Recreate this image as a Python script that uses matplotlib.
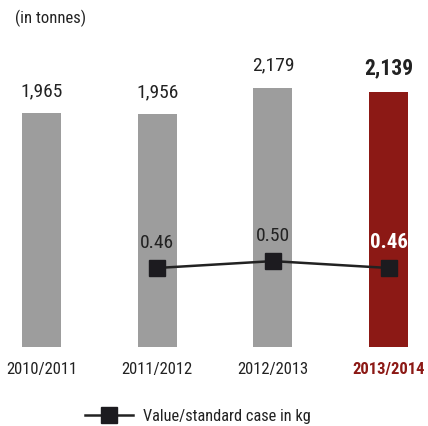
import matplotlib.pyplot as plt
from matplotlib.lines import Line2D

plt.rcParams['font.family'] = ['Roboto Condensed', 'DejaVu Sans']

years = ['2010/2011', '2011/2012', '2012/2013', '2013/2014']
tonnes = [1965, 1956, 2179, 2139]
kg_years = [1, 2, 3]
kg_per_case = [0.46, 0.50, 0.46]

grey = '#9d9d9d'
red = '#8c1915'
dark = '#222222'

fig = plt.figure(figsize=(4.28, 4.26), dpi=100)
ax = fig.add_axes([0, 1 - 347 / 426, 1, 347 / 426])
x = list(range(len(years)))
colors = [grey] * 3 + [red]
ax.bar(x, tonnes, width=0.337, color=colors)
ax.set_xlim(-0.359, 3.341)
ax.set_ylim(0, 2915)

for i, v in enumerate(tonnes):
    last = i == len(tonnes) - 1
    ax.annotate(f'{v:,}', (i, v), xytext=(0, 16 if not last else 17),
                textcoords='offset points', ha='center', va='center',
                fontsize=15.5 if last else 14,
                fontweight='bold' if last else 'normal', color=dark)

ax2 = ax.twinx()
ax2.set_ylim(0, 2.02)
ax2.plot(kg_years, kg_per_case, color=dark, lw=1.8, marker='s', ms=12,
         markerfacecolor='#1c1b1f', markeredgecolor='#1c1b1f')
for i, (xx, v) in enumerate(zip(kg_years, kg_per_case)):
    last = i == len(kg_years) - 1
    ax2.annotate(f'{v:.2f}', (xx, v), xytext=(0, 18), textcoords='offset points',
                 ha='center', va='center', fontsize=15 if last else 14,
                 fontweight='bold' if last else 'normal',
                 color='white' if last else dark)

for a in (ax, ax2):
    for s in a.spines.values():
        s.set_visible(False)
    a.set_yticks([])
ax.set_xticks(x)
ax.set_xticklabels(years, fontsize=12, color=dark)
ax.tick_params(axis='x', length=0, pad=11)
lbls = ax.get_xticklabels()
lbls[-1].set_color(red)
lbls[-1].set_fontweight('bold')

fig.text(15 / 428, 1 - 18 / 426, '(in tonnes)', fontsize=12, color=dark, va='center')

handle = Line2D([], [], color=dark, lw=1.8, marker='s', ms=12,
                markerfacecolor='#1c1b1f', markeredgecolor='#1c1b1f')
fig.legend([handle], ['Value/standard case in kg'], loc='center',
           bbox_to_anchor=(198 / 428, 1 - 416 / 426), frameon=False,
           fontsize=11.8, handlelength=2.9, handletextpad=0.6, labelcolor=dark)

fig.savefig('out.png', dpi=100)
